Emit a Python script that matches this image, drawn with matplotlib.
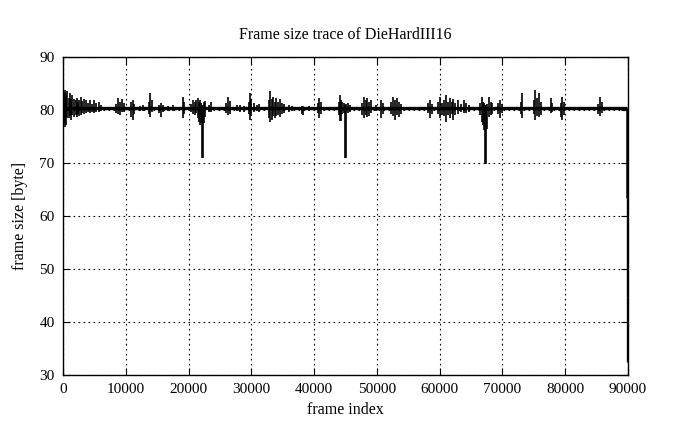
import matplotlib
matplotlib.use('Agg')
import matplotlib.pyplot as plt

# trace values
baseline_level = 80.4

# bursts of activity: frame index, upper peak, lower peak
spike_frame = [100, 250, 400, 550, 700, 900, 1100, 1300, 1500, 1750,
               2000, 2200, 2450, 2600, 2850, 3100, 3350,
               3700, 4000, 4300, 4700, 5000, 5300, 5700, 6000,
               8500, 8800, 9100, 9400, 9700, 10900, 11100, 11350, 12200, 12700,
               13700, 13900, 14150, 15300, 15600, 15900, 16800, 17500,
               19100, 19300, 20400, 20700, 21000, 21200,
               21500, 21700, 21900, 22050, 22200, 22350, 22500, 22700, 23200, 23600,
               26000, 26300, 26600, 27700, 28200, 28800, 29600, 29800, 30000,
               30500, 30900, 31200, 32800, 33000, 33250, 33500, 33700,
               34000, 34300, 34600, 34900, 35200, 36000, 36500, 38100, 38300, 39200,
               40600, 40800, 41100, 43900, 44100, 44300, 44500, 44700, 44950, 45100,
               45400, 45650, 47700, 47900, 48200, 48500, 48750, 49000, 49900,
               50700, 51000, 52300, 52600, 52900, 53200, 53500, 53800,
               58200, 58500, 58800, 59800, 60100, 60400,
               60700, 61000, 61300, 61600, 61900, 62200, 62500, 62900,
               63400, 63800, 64200, 64600, 66500, 66700, 66900,
               67100, 67250, 67400, 67550, 67800, 68100, 68400,
               69300, 69600, 69900, 72900, 73100,
               75000, 75200, 75500, 75800, 76100, 77700, 77950,
               79300, 79500, 79800, 85300, 85550, 85800]
spike_hi = [82.5, 83.8, 83.2, 82.8, 83.5, 82.2, 83.2, 82.0, 82.8, 82.0,
            81.8, 82.2, 81.6, 81.9, 82.5, 81.7, 82.1,
            81.9, 81.4, 81.8, 81.2, 81.9, 81.3, 81.5, 81.0,
            81.2, 82.2, 81.5, 82.0, 81.3, 81.5, 81.9, 81.2, 80.8, 80.9,
            81.6, 83.2, 81.8, 81.0, 81.3, 80.9, 80.8, 80.9,
            82.5, 81.5, 81.2, 81.9, 81.5, 81.8,
            82.2, 81.5, 81.8, 81.3, 81.0, 81.0, 81.5, 81.7, 81.0, 81.5,
            81.4, 82.5, 81.7, 80.9, 81.0, 80.8, 81.5, 83.2, 82.0,
            81.3, 81.0, 81.2, 81.8, 83.5, 82.0, 82.5, 81.6,
            82.2, 81.5, 82.0, 81.4, 81.2, 80.9, 80.8, 80.7, 80.8, 80.8,
            81.3, 82.2, 81.5, 81.5, 82.8, 81.9, 81.6, 81.3, 81.0, 81.2,
            81.3, 80.9, 81.3, 82.5, 81.8, 82.3, 81.5, 81.9, 80.9,
            81.9, 81.4, 81.5, 82.5, 81.8, 82.2, 81.6, 81.2,
            81.3, 81.9, 81.2, 81.5, 82.5, 81.4,
            81.9, 82.8, 81.5, 82.3, 81.6, 82.0, 81.4, 81.8,
            81.2, 81.9, 81.3, 81.0, 81.3, 82.5, 81.6,
            81.4, 81.0, 81.0, 81.2, 82.5, 81.6, 81.3,
            81.4, 81.9, 81.2, 81.5, 83.2,
            81.8, 83.8, 82.3, 83.2, 81.6, 82.2, 81.3,
            81.4, 82.5, 81.6, 81.2, 82.5, 81.5]
spike_lo = [77.5, 76.8, 78.0, 77.2, 78.5, 78.5, 78.8, 78.1, 79.0, 78.6,
            79.0, 78.7, 79.2, 78.9, 79.1, 79.5, 79.3,
            79.4, 79.6, 79.5, 79.6, 79.4, 79.7, 79.6, 79.8,
            79.5, 79.3, 79.1, 79.6, 79.7, 78.6, 78.1, 79.2, 79.8, 79.9,
            79.3, 78.7, 79.6, 79.4, 78.7, 79.6, 79.9, 79.9,
            78.4, 79.2, 79.6, 79.3, 79.1, 79.5,
            78.5, 77.8, 77.2, 77.5, 71.0, 71.0, 77.5, 78.6, 79.7, 79.7,
            79.4, 79.1, 79.3, 79.8, 79.6, 79.7, 79.3, 78.1, 78.8,
            79.6, 79.8, 79.7, 78.5, 77.8, 78.2, 78.8, 78.4,
            78.9, 79.1, 78.7, 79.3, 79.5, 79.7, 79.8, 79.3, 79.1, 79.8,
            79.4, 78.4, 79.2, 79.0, 77.9, 78.0, 79.2, 79.5, 70.9, 70.9,
            79.4, 79.6, 79.0, 78.4, 79.1, 78.7, 78.9, 79.4, 79.8,
            78.4, 79.2, 79.3, 78.8, 78.1, 79.0, 78.6, 79.3,
            79.4, 78.4, 79.3, 79.3, 78.4, 79.0,
            78.9, 77.8, 79.1, 78.5, 79.2, 78.2, 79.0, 79.3,
            79.6, 79.4, 79.5, 79.7, 79.0, 77.8, 77.2,
            76.2, 69.9, 69.9, 76.5, 78.7, 79.0, 79.3,
            79.2, 78.4, 79.4, 79.2, 78.4,
            79.2, 78.1, 78.9, 78.6, 79.1, 79.4, 79.6,
            78.6, 78.1, 79.0, 79.3, 78.9, 79.4]

# the last frames fall away from the steady level
tail_frame = [89850, 89900, 89950]
tail_hi = [80.4, 63.4, 44.7]
tail_lo = [63.4, 44.7, 32.5]
tail_width = [1.8, 1.0, 2.4]

plt.rcParams['font.family'] = ['Liberation Serif', 'DejaVu Serif']

fig = plt.figure(figsize=(6.95, 4.29), dpi=100)
ax = fig.add_axes([0.0906, 0.1259, 0.8130, 0.7412])

ax.plot([0, tail_frame[0]], [baseline_level, baseline_level], color='black', lw=2.4,
        solid_capstyle='butt')
ax.vlines(spike_frame, spike_lo, spike_hi, color='black', lw=1.2)
for f, hi, lo, w in zip(tail_frame, tail_hi, tail_lo, tail_width):
    ax.vlines(f, lo, hi, color='black', lw=w)

ax.set_xlim(0, 90000)
ax.set_ylim(30, 90)
ax.set_xticks(range(0, 90001, 10000))
ax.set_yticks(range(30, 91, 10))
ax.grid(True, color='black', linestyle=(0, (1.5, 3)), linewidth=0.8)
ax.tick_params(direction='in', length=5, top=True, right=True, labelsize=11,
               width=0.8, pad=6)
for s in ax.spines.values():
    s.set_linewidth(1.0)

ax.set_title('Frame size trace of DieHardIII16', fontsize=11.5, pad=13)
ax.set_xlabel('frame index', fontsize=11.5, labelpad=4)
ax.set_ylabel('frame size [byte]', fontsize=11.5, labelpad=8)

fig.savefig('out.png', dpi=100)
